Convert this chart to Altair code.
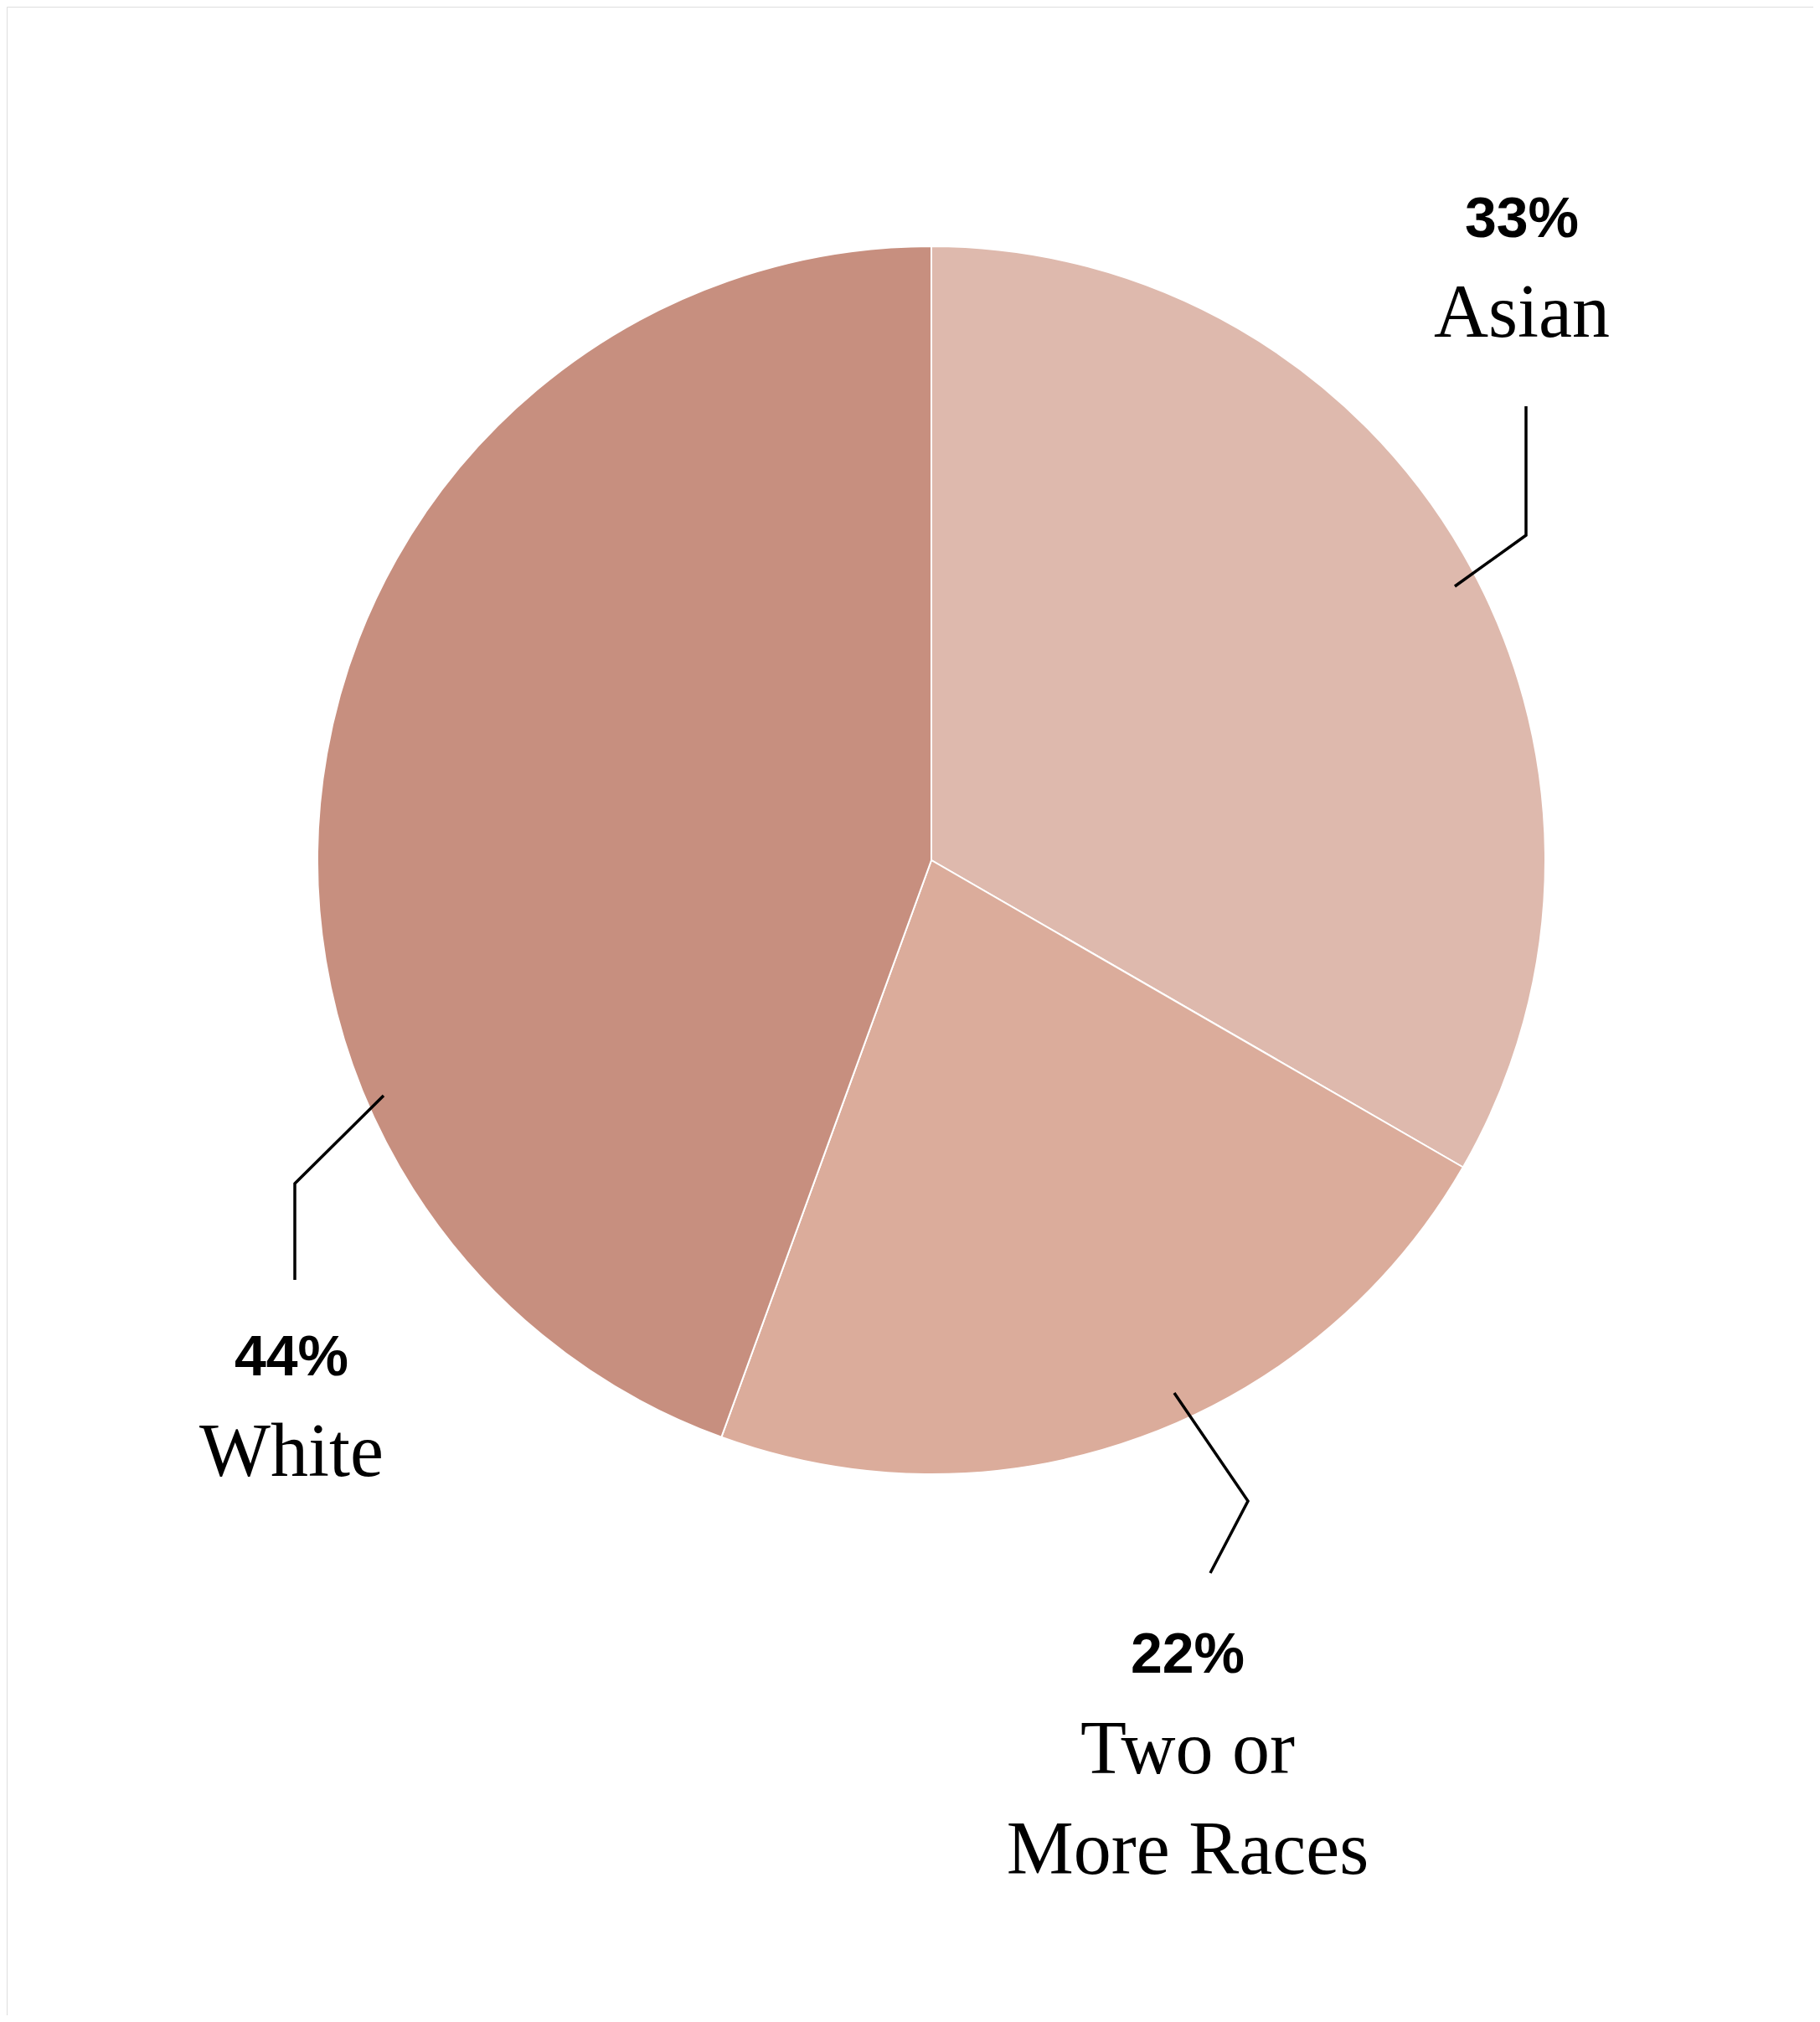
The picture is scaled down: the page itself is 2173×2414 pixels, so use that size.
import altair as alt
import pandas as pd

# ---- data ----
categories = ["Asian", "Two or More Races", "White"]
values = [33, 22, 44]
name_lines = [["Asian"], ["Two or", "More Races"], ["White"]]
colors = ["#DEB9AD", "#DBAC9B", "#C78F7F"]

# ---- layout (chart pixel coordinates) ----
W, H = 2157, 2398
CX, CY, R = 1104, 1019, 733
leaders = {
    "Asian": [(1729, 692), (1814, 631), (1814, 477)],
    "Two or More Races": [(1394, 1655), (1482, 1784), (1437, 1870)],
    "White": [(450, 1300), (344, 1405), (344, 1520)],
}
label_pos = {  # x center, percent baseline, first name baseline
    "Asian": (1809, 275, 394),
    "Two or More Races": (1410, 1989, 2109),
    "White": (340, 1634, 1754),
}
LINE_H = 120

pie_df = pd.DataFrame({"category": categories, "value": values,
                       "order": list(range(len(categories)))})

lead_rows = []
for c in categories:
    for i, (x, y) in enumerate(leaders[c]):
        lead_rows.append({"category": c, "i": i, "x": x, "y": y})
lead_df = pd.DataFrame(lead_rows)

pct_rows, name_rows = [], []
for c, v, lines in zip(categories, values, name_lines):
    x, yp, yn = label_pos[c]
    pct_rows.append({"t": f"{v}%", "x": x, "y": yp})
    for k, ln in enumerate(lines):
        name_rows.append({"t": ln, "x": x, "y": yn + k * LINE_H})
pct_df = pd.DataFrame(pct_rows)
name_df = pd.DataFrame(name_rows)

pie = alt.Chart(pie_df).mark_arc(outerRadius=R, stroke="white", strokeWidth=2).encode(
    theta=alt.Theta("value:Q", stack=True),
    order=alt.Order("order:Q"),
    color=alt.Color("category:N", scale=alt.Scale(domain=categories, range=colors), legend=None),
    x=alt.value(CX),
    y=alt.value(CY),
)

lines = alt.Chart(lead_df).mark_line(color="black", strokeWidth=3.5).encode(
    x=alt.X("x:Q", scale=None),
    y=alt.Y("y:Q", scale=None),
    detail="category:N",
    order="i:Q",
)

pct = alt.Chart(pct_df).mark_text(font="Liberation Sans", fontWeight="bold", fontSize=68,
                                  align="center", baseline="alphabetic", color="black").encode(
    x=alt.X("x:Q", scale=None), y=alt.Y("y:Q", scale=None), text="t:N")

names = alt.Chart(name_df).mark_text(font="Liberation Serif", fontSize=90,
                                     align="center", baseline="alphabetic", color="black").encode(
    x=alt.X("x:Q", scale=None), y=alt.Y("y:Q", scale=None), text="t:N")

chart = alt.layer(pie, lines, pct, names).properties(
    width=W, height=H,
    autosize=alt.AutoSizeParams(type="fit", contains="padding"),
    padding=0,
).configure_view(stroke=None).configure(background="transparent")

chart.save("out.html", embed_options={"renderer": "svg", "actions": False})
